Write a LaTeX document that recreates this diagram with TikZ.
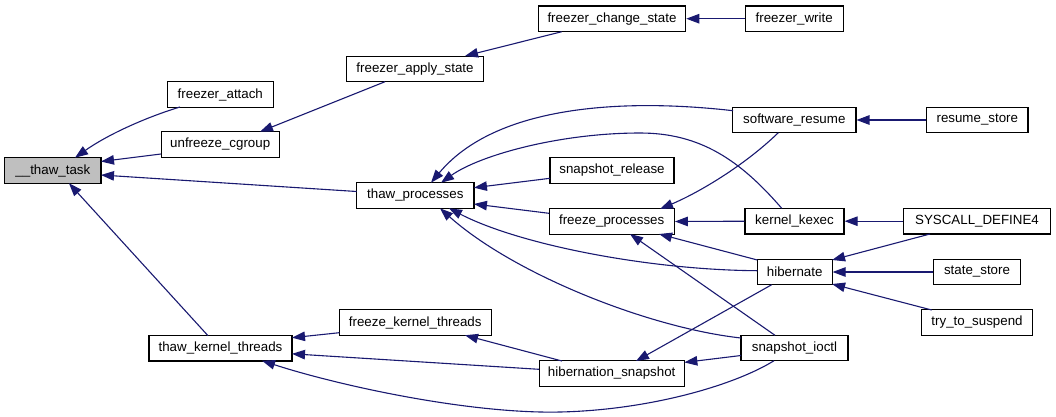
\documentclass[tikz,border=0pt]{standalone}
\usepackage{fontspec}
\setmainfont{Liberation Sans}
\usetikzlibrary{arrows.meta}
\definecolor{edgeblue}{HTML}{191970}
\definecolor{hilite}{HTML}{BFBFBF}
\begin{document}
\begin{tikzpicture}[x=1pt,y=-1pt,
  box/.style={draw=black,line width=1.1pt,fill=white,minimum height=25.5pt,inner sep=0pt,
    font=\fontsize{13.33}{16}\selectfont},
  edge/.style={draw=edgeblue,line width=1.1pt,-{Triangle[length=13pt,width=9.5pt]}}]
\useasboundingbox (0,0) rectangle (1056,416);
% nodes
\node[box,fill=hilite,minimum width=96.3pt] (tt) at (52.85,170.5) {\_\_thaw\_task};
\node[box,minimum width=106pt] (fa) at (220.3,94.5) {freezer\_attach};
\node[box,minimum width=118.3pt] (uc) at (220.2,144.5) {unfreeze\_cgroup};
\node[box,minimum width=136.6pt] (fas) at (415,68.85) {freezer\_apply\_state};
\node[box,minimum width=147.4pt] (fcs) at (612,18.7) {freezer\_change\_state};
\node[box,minimum width=98.3pt] (fw) at (794.2,18.7) {freezer\_write};
\node[box,minimum width=117.3pt] (tp) at (415.3,195.5) {thaw\_processes};
\node[box,minimum width=124pt] (sr) at (612,170.5) {snapshot\_release};
\node[box,minimum width=123.3pt] (sres) at (794.3,120) {software\_resume};
\node[box,minimum width=101.3pt] (rs) at (977.3,120) {resume\_store};
\node[box,minimum width=99pt] (kk) at (794.5,221.2) {kernel\_kexec};
\node[box,minimum width=147.7pt] (sd) at (977,221.2) {SYSCALL\_DEFINE4};
\node[box,minimum width=74.7pt] (hib) at (794.7,272) {hibernate};
\node[box,minimum width=87.4pt] (ss) at (977,272) {state\_store};
\node[box,minimum width=111.4pt] (tts) at (977,322.5) {try\_to\_suspend};
\node[box,minimum width=125.3pt] (fp) at (611.7,221.5) {freeze\_processes};
\node[box,minimum width=107pt] (si) at (794.5,348) {snapshot\_ioctl};
\node[box,minimum width=145.3pt] (hs) at (611.7,373.5) {hibernation\_snapshot};
\node[box,minimum width=151.7pt] (fkt) at (415.2,322.5) {freeze\_kernel\_threads};
\node[box,minimum width=143pt] (tkt) at (220.5,348.2) {thaw\_kernel\_threads};
% edges
\draw[edge] ([shift={(-40.3,12.5)}]fa.center) .. controls (150,116) and (110,133) .. ([shift={(22.15,-12.8)}]tt.center);
\draw[edge] ([shift={(-59.2,9.5)}]uc.center) -- ([shift={(48.15,-9)}]tt.center);
\draw[edge] ([shift={(-58.6,-4)}]tp.center) -- ([shift={(48.15,4.5)}]tt.center);
\draw[edge] ([shift={(-12.5,-12.5)}]tkt.center) -- ([shift={(16.15,12.8)}]tt.center);
\draw[edge] ([shift={(-30,12.85)}]fas.center) -- ([shift={(39.8,-12.8)}]uc.center);
\draw[edge] ([shift={(-50.3,13)}]fcs.center) -- ([shift={(50,-12.85)}]fas.center);
\draw[edge] (fw.west) -- (fcs.east);
\draw[edge] ([shift={(-61.3,-9.3)}]sres.center) .. controls (640,100) and (500,100) .. ([shift={(15.7,-12.8)}]tp.center);
\draw[edge] ([shift={(-12.8,-12.9)}]kk.center) .. controls (740,160) and (700,133) .. (640,133)
  .. controls (560,133) and (480,155) .. ([shift={(25.7,-12.8)}]tp.center);
\draw[edge] ([shift={(-62,7.8)}]sr.center) -- ([shift={(58.65,-7.8)}]tp.center);
\draw[edge] ([shift={(-62.65,-8.2)}]fp.center) -- ([shift={(58.65,8.5)}]tp.center);
\draw[edge] ([shift={(-37.35,-1.3)}]hib.center) .. controls (650,270) and (520,245) .. ([shift={(33.7,12.8)}]tp.center);
\draw[edge] ([shift={(-53.5,-10)}]si.center) .. controls (650,328) and (515,275) .. ([shift={(24.7,12.8)}]tp.center);
\draw[edge] ([shift={(-16,12.7)}]sres.center) .. controls (745,165) and (700,192) .. ([shift={(48.3,-12.5)}]fp.center);
\draw[edge] (kk.west) -- (fp.east);
\draw[edge] ([shift={(-37.35,-12)}]hib.center) -- ([shift={(47.3,12.5)}]fp.center);
\draw[edge] ([shift={(-19.5,-12.7)}]si.center) -- ([shift={(18.3,12.5)}]fp.center);
\draw[edge] (sd.west) -- (kk.east);
\draw[edge] ([shift={(-47,12.8)}]sd.center) -- ([shift={(37.35,-12)}]hib.center);
\draw[edge] (ss.west) -- (hib.east);
\draw[edge] ([shift={(-45.3,-12.5)}]tts.center) -- ([shift={(37.35,12)}]hib.center);
\draw[edge] (rs.west) -- (sres.east);
\draw[edge] ([shift={(-23,12.7)}]hib.center) -- ([shift={(24.3,-12.5)}]hs.center);
\draw[edge] ([shift={(-53.5,7.5)}]si.center) -- ([shift={(72.65,-11.1)}]hs.center);
\draw[edge] ([shift={(-75.85,10.2)}]fkt.center) -- ([shift={(71.5,-10.5)}]tkt.center);
\draw[edge] ([shift={(-72.65,-4.2)}]hs.center) -- ([shift={(71.5,5.6)}]tkt.center);
\draw[edge] ([shift={(-20.5,12.7)}]si.center) .. controls (735,385) and (650,410) .. (560,412)
  .. controls (470,414) and (340,386) .. ([shift={(41.5,12.5)}]tkt.center);
\draw[edge] ([shift={(-49.7,-12.5)}]hs.center) -- ([shift={(49.8,12.75)}]fkt.center);
\end{tikzpicture}
\end{document}
